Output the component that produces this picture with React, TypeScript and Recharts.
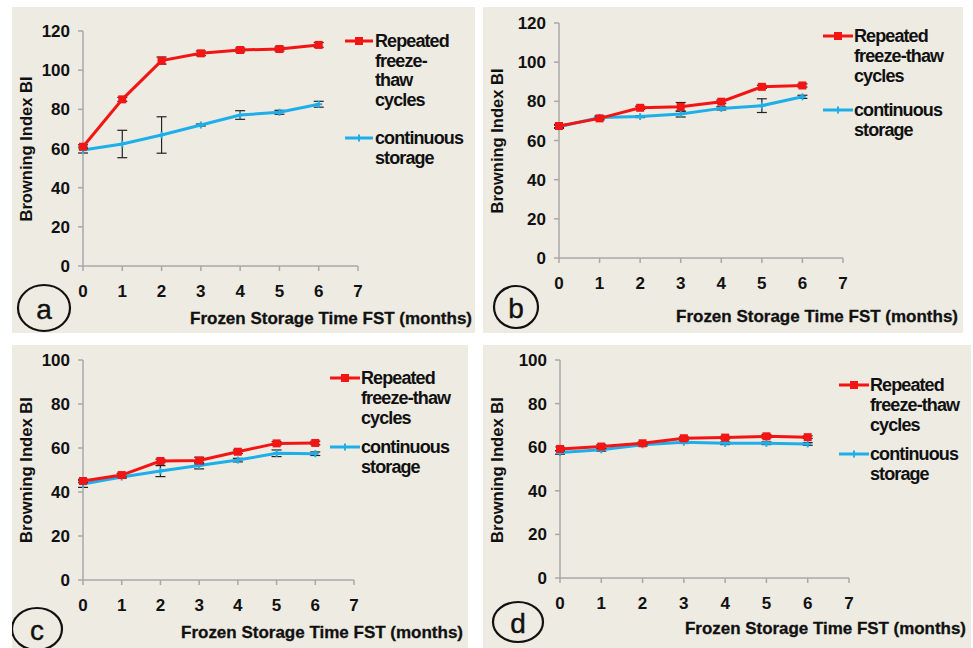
import React from "react";
import { LineChart, Line, XAxis, YAxis, ErrorBar } from "recharts";

// Frozen storage time (months)
const months = [0, 1, 2, 3, 4, 5, 6];
const xTicks = [0, 1, 2, 3, 4, 5, 6, 7];
const yTicks120 = [0, 20, 40, 60, 80, 100, 120];
const yTicks100 = [0, 20, 40, 60, 80, 100];

// panel a
const repeatedA = [60.9, 85.1, 104.9, 108.6, 110.3, 110.8, 112.9];
const repeatedErrA = [1, 1, 1.8, 1.2, 1, 1, 1.2];
const continuousA = [59.2, 62.3, 66.9, 72, 77.1, 78.5, 82.6];
const continuousErrA = [1.5, 7, 9.3, 0.5, 2.2, 1, 1.5];

// panel b
const repeatedB = [67.4, 71.3, 76.7, 77.2, 79.8, 87.4, 88.1];
const repeatedErrB = [0.8, 0.8, 0.8, 2.2, 0.8, 0.8, 0.8];
const continuousB = [67, 71.8, 72.2, 73.5, 76.4, 77.8, 82.3];
const continuousErrB = [0.8, 0.8, 0.5, 1.5, 0.8, 3.5, 0.8];

// panel c
const repeatedC = [45, 47.7, 54.1, 54.3, 58.3, 62.1, 62.3];
const repeatedErrC = [0.8, 0.8, 0.8, 1.5, 0.8, 0.8, 0.8];
const continuousC = [43.6, 46.8, 49.5, 52, 54.5, 57.6, 57.4];
const continuousErrC = [1.5, 0.6, 2.5, 1.5, 0.8, 1.5, 0.8];

// panel d
const repeatedD = [59.2, 60.3, 61.8, 64.1, 64.4, 65, 64.6];
const repeatedErrD = [0.8, 0.8, 0.6, 0.6, 0.6, 0.8, 0.6];
const continuousD = [57.6, 58.8, 61.1, 62.3, 61.8, 61.8, 61.5];
const continuousErrD = [0.8, 0.6, 0.6, 0.6, 0.6, 0.6, 0.6];

const RED = "#f41414";
const BLUE = "#1eaeea";
const BG = "#eeebe2";
const AXIS = "#a8a8a8";
const FONT = "'Liberation Sans', Arial, sans-serif";

const panels = [
  {
    id: "a", left: 12, top: 7, w: 463, h: 326, plot: [83, 31, 358, 266], yMax: 120, yTicks: yTicks120,
    rep: repeatedA, repErr: repeatedErrA, con: continuousA, conErr: continuousErrA,
    xTitle: [190, 318, 282], yTitle: [26, 149, 145], circle: [44, 308, 26, 23],
    legend: { x0: 345, x1: 373, tx: 375, ry: 41, by: 138, lh: 19.5, rep: ["Repeated", "freeze-", "thaw", "cycles"] },
  },
  {
    id: "b", left: 483, top: 7, w: 480, h: 326, plot: [559, 23, 843, 258], yMax: 120, yTicks: yTicks120,
    rep: repeatedB, repErr: repeatedErrB, con: continuousB, conErr: continuousErrB,
    xTitle: [676, 316, 282], yTitle: [497, 141, 145], circle: [516, 307, 22, 21],
    legend: { x0: 823, x1: 853, tx: 854, ry: 36, by: 110, lh: 20, rep: ["Repeated", "freeze-thaw", "cycles"] },
  },
  {
    id: "c", left: 12, top: 345, w: 456, h: 303, plot: [83, 360, 354, 580], yMax: 100, yTicks: yTicks100,
    rep: repeatedC, repErr: repeatedErrC, con: continuousC, conErr: continuousErrC,
    xTitle: [181, 632, 282], yTitle: [26, 470, 146], circle: [37, 629, 25, 21],
    legend: { x0: 330, x1: 360, tx: 361, ry: 378, by: 447, lh: 20, rep: ["Repeated", "freeze-thaw", "cycles"] },
  },
  {
    id: "d", left: 483, top: 345, w: 488, h: 303, plot: [560, 360, 849, 578], yMax: 100, yTicks: yTicks100,
    rep: repeatedD, repErr: repeatedErrD, con: continuousD, conErr: continuousErrD,
    xTitle: [685, 628, 281], yTitle: [497, 470, 146], circle: [518, 622, 25, 20],
    legend: { x0: 839, x1: 869, tx: 870, ry: 385, by: 454, lh: 20, rep: ["Repeated", "freeze-thaw", "cycles"] },
  },
];

const SquareDot = (props: any) => {
  const { cx, cy } = props;
  if (cx == null || cy == null) return null;
  return <rect x={cx - 4} y={cy - 4} width={8} height={8} fill={RED} />;
};

const StarDot = (props: any) => {
  const { cx, cy } = props;
  if (cx == null || cy == null) return null;
  return (
    <g stroke={BLUE} strokeWidth={2}>
      <line x1={cx - 3.5} y1={cy} x2={cx + 3.5} y2={cy} />
      <line x1={cx} y1={cy - 3.5} x2={cx} y2={cy + 3.5} />
    </g>
  );
};

const tickStyle = { fill: "#111", fontSize: 17, fontWeight: 700, fontFamily: FONT };

function Panel({ p }: { p: (typeof panels)[number] }) {
  const data = months.map((m, i) => ({
    month: m,
    repeated: p.rep[i],
    repeatedErr: p.repErr[i],
    continuous: p.con[i],
    continuousErr: p.conErr[i],
  }));
  const [pl, pt, pr, pb] = p.plot;
  const margin = {
    left: pl - p.left - 40,
    top: pt - p.top,
    right: p.left + p.w - pr,
    bottom: p.top + p.h - pb - 30,
  };
  const L = p.legend;
  const ox = p.left;
  const oy = p.top;

  return (
    <div style={{ position: "absolute", left: p.left, top: p.top, width: p.w, height: p.h, background: BG, overflow: "hidden" }}>
      <LineChart width={p.w} height={p.h} data={data} margin={margin}>
        <XAxis
          dataKey="month"
          type="number"
          domain={[0, 7]}
          ticks={xTicks}
          height={30}
          stroke={AXIS}
          strokeWidth={1.5}
          tickSize={5}
          tickMargin={14}
          tick={tickStyle}
          interval={0}
          label={{
            content: () => (
              <text
                x={p.xTitle[0] - ox}
                y={p.xTitle[1] - oy}
                textLength={p.xTitle[2]}
                lengthAdjust="spacingAndGlyphs"
                dominantBaseline="central"
                fontFamily={FONT}
                fontSize={17}
                fontWeight={700}
                stroke="#111"
                strokeWidth={0.3}
                fill="#111"
              >
                Frozen Storage Time FST (months)
              </text>
            ),
          }}
        />
        <YAxis
          type="number"
          domain={[0, p.yMax]}
          ticks={p.yTicks}
          width={40}
          stroke={AXIS}
          strokeWidth={1.5}
          tickSize={5}
          tickMargin={8}
          tick={tickStyle}
          interval={0}
          label={{
            content: () => (
              <text
                x={p.yTitle[0] - ox}
                y={p.yTitle[1] - oy}
                transform={`rotate(-90 ${p.yTitle[0] - ox} ${p.yTitle[1] - oy})`}
                textAnchor="middle"
                textLength={p.yTitle[2]}
                lengthAdjust="spacingAndGlyphs"
                dominantBaseline="central"
                fontFamily={FONT}
                fontSize={17}
                fontWeight={700}
                fill="#111"
              >
                Browning Index BI
              </text>
            ),
          }}
        />
        <Line
          type="linear"
          dataKey="continuous"
          stroke={BLUE}
          strokeWidth={3}
          dot={<StarDot />}
          activeDot={false}
          isAnimationActive={false}
        >
          <ErrorBar dataKey="continuousErr" direction="y" width={5} stroke="#222" strokeWidth={1.2} />
        </Line>
        <Line
          type="linear"
          dataKey="repeated"
          stroke={RED}
          strokeWidth={3}
          dot={<SquareDot />}
          activeDot={false}
          isAnimationActive={false}
        >
          <ErrorBar dataKey="repeatedErr" direction="y" width={5} stroke="#222" strokeWidth={1.2} />
        </Line>
      </LineChart>
      <svg
        width={p.w}
        height={p.h}
        style={{ position: "absolute", left: 0, top: 0, pointerEvents: "none" }}
        fontFamily={FONT}
      >
        {/* legend */}
        <line x1={L.x0 - ox} y1={L.ry - oy} x2={L.x1 - ox} y2={L.ry - oy} stroke={RED} strokeWidth={3} />
        <rect x={(L.x0 + L.x1) / 2 - ox - 4} y={L.ry - oy - 4} width={8} height={8} fill={RED} />
        {L.rep.map((t, i) => (
          <text key={t} x={L.tx - ox} y={L.ry - oy + i * L.lh} dominantBaseline="central" fontSize={18} fontWeight={700} letterSpacing={-0.9} fill="#111">
            {t}
          </text>
        ))}
        <line x1={L.x0 - ox} y1={L.by - oy} x2={L.x1 - ox} y2={L.by - oy} stroke={BLUE} strokeWidth={3} />
        <line x1={(L.x0 + L.x1) / 2 - ox - 3.5} y1={L.by - oy} x2={(L.x0 + L.x1) / 2 - ox + 3.5} y2={L.by - oy} stroke={BLUE} strokeWidth={2} />
        <line x1={(L.x0 + L.x1) / 2 - ox} y1={L.by - oy - 3.5} x2={(L.x0 + L.x1) / 2 - ox} y2={L.by - oy + 3.5} stroke={BLUE} strokeWidth={2} />
        {["continuous", "storage"].map((t, i) => (
          <text key={t} x={L.tx - ox} y={L.by - oy + i * L.lh} dominantBaseline="central" fontSize={18} fontWeight={700} letterSpacing={-0.9} fill="#111">
            {t}
          </text>
        ))}
        {/* panel letter */}
        <ellipse cx={p.circle[0] - ox} cy={p.circle[1] - oy} rx={p.circle[2]} ry={p.circle[3]} fill="none" stroke="#111" strokeWidth={2.2} />
        <text x={p.circle[0] - ox} y={p.circle[1] - oy + 1} textAnchor="middle" dominantBaseline="central" fontSize={28} fill="#111" stroke="#111" strokeWidth={0.4}>
          {p.id}
        </text>
      </svg>
    </div>
  );
}

export default function App() {
  return (
    <div style={{ position: "absolute", left: 0, top: 0, width: 973, height: 648, background: "#fff", overflow: "hidden" }}>
      {panels.map((p) => (
        <Panel key={p.id} p={p} />
      ))}
    </div>
  );
}
